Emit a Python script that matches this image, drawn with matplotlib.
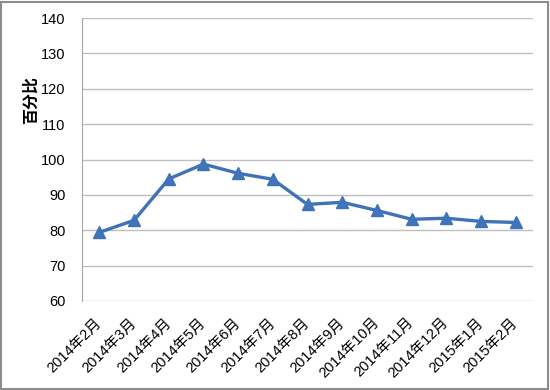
import matplotlib.pyplot as plt
from matplotlib.patches import Rectangle

# dados
meses = ['2014年2月', '2014年3月', '2014年4月', '2014年5月', '2014年6月', '2014年7月',
         '2014年8月', '2014年9月', '2014年10月', '2014年11月', '2014年12月',
         '2015年1月', '2015年2月']
valores = [79.4, 82.8, 94.5, 98.7, 96.1, 94.4, 87.3, 87.9, 85.6, 83.1, 83.4, 82.5, 82.2]
y_ticks = [60, 70, 80, 90, 100, 110, 120, 130, 140]

plt.rcParams['font.family'] = ['Liberation Sans', 'Noto Sans CJK SC', 'DejaVu Sans']

fig = plt.figure(figsize=(5.5, 3.9), dpi=100)
ax = fig.add_axes([82 / 550, 1 - 301 / 390, 451 / 550, 283 / 390])

x = list(range(len(meses)))
ax.plot(x, valores, color='#3f72b6', lw=2.4, marker='^', ms=9,
        markeredgecolor='#3f72b6', markerfacecolor='#4075bb', zorder=3)

ax.set_xlim(-0.5, len(meses) - 0.5)
ax.set_ylim(60, 140)
ax.set_yticks(y_ticks)
ax.set_xticks(x)
ax.set_xticklabels(meses, rotation=45, ha='right', va='center', rotation_mode='anchor',
                   family=['Liberation Sans', 'Noto Sans CJK SC'], fontsize=10.5)
ax.tick_params(axis='y', labelsize=10.5, length=0, pad=12)
ax.tick_params(axis='x', length=0, pad=14)

ax.grid(axis='y', color='#bfbfbf', lw=1)
ax.set_axisbelow(True)
for s in ['top', 'right', 'bottom']:
    ax.spines[s].set_visible(False)
ax.spines['left'].set_color('#a6a6a6')

ax.set_ylabel('百分比', family=['Noto Sans CJK SC'], fontweight='bold', fontsize=11.5)
ax.yaxis.set_label_coords(-0.097, 0.71)

# borda do grafico
fig.patches.append(Rectangle((0.002, 0.003), 0.995, 0.993, transform=fig.transFigure,
                             fill=False, edgecolor='#8c8c8c', lw=1.5))

fig.savefig('out.png', dpi=100)
